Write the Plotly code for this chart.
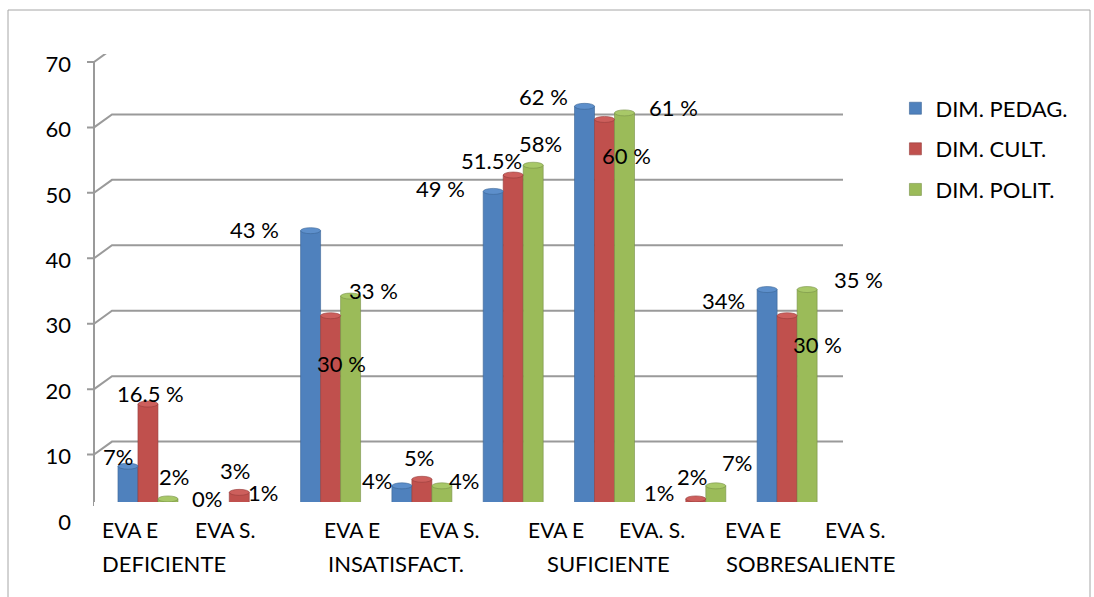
import plotly.graph_objects as go

# ---------------- data ----------------
groups = ["DEFICIENTE", "INSATISFACT.", "SUFICIENTE", "SOBRESALIENTE"]
eva_labels = ["EVA E", "EVA S.", "EVA E", "EVA S.", "EVA E", "EVA. S.", "EVA E", "EVA S."]
series_names = ["DIM. PEDAG.", "DIM. CULT.", "DIM. POLIT."]
pedag = [7, 0, 43, 4, 49, 62, 1, 34]
cult = [16.5, 3, 30, 5, 51.5, 60, 2, 30]
polit = [2, 1, 33, 4, 53, 61, 4, 34]
pedag_labels = ["7%", "0%", "43 %", "4%", "49 %", "62 %", "1%", "34%"]
cult_labels = ["16.5 %", "3%", "30 %", "5%", "51.5%", "60 %", "2%", "30 %"]
polit_labels = ["2%", "1%", "33 %", "4%", "58%", "61 %", "7%", "35 %"]
y_ticks = [0, 10, 20, 30, 40, 50, 60, 70]

# ---------------- style ----------------
colors = ["#4F81BD", "#C0504D", "#9BBB59"]
tops = ["#5D8FCB", "#CD5F5C", "#A8C868"]
edge = ["#3A6595", "#963D3A", "#779146"]
FONT = "Lato"
GRID = "#9a9a9a"
BARGAP = 0.343

# label placement offsets (pixels) relative to group centre / bar top
lab_dx = [
    [-30, -32, -76, -45, -73, -61, -37, -64],
    [3, -4, 11, -3, -22, 22, -4, 30],
    [26, 24, 43, 42, 27, 69, 41, 71],
]
lab_dy = [
    [10, 14, 1, 5, 3, 10, 13, -11],
    [11, 22, -48, 22, 15, -36, 22, -29],
    [22, 13, 6, 5, 22, 5, 23, 10],
]
eva_dx = [-18, -14, 21, 27, 43, 47, 57, 68]
grp_dx = [-30, 19.5, 49.5, 69.5]

xs = list(range(len(eva_labels)))
values = [pedag, cult, polit]
texts = [pedag_labels, cult_labels, polit_labels]

fig = go.Figure()
for i, name in enumerate(series_names):
    fig.add_trace(go.Bar(
        x=xs, y=values[i], name=name, legendgroup=name,
        marker=dict(color=colors[i], line=dict(color=edge[i], width=0.6)),
        hoverinfo="skip",
    ))

annotations = []
for i in range(3):
    for g in xs:
        annotations.append(dict(
            x=g, y=values[i][g], xref="x", yref="y", text=texts[i][g],
            showarrow=False, xanchor="center", yanchor="middle",
            xshift=lab_dx[i][g], yshift=lab_dy[i][g],
            font=dict(family=FONT, size=22, color="black"),
        ))
for g, lab in enumerate(eva_labels):
    annotations.append(dict(
        x=g, y=0, xref="x", yref="paper", text=lab, showarrow=False,
        xanchor="center", yanchor="middle", xshift=eva_dx[g], yshift=-17,
        font=dict(family=FONT, size=21, color="black"),
    ))
for k, lab in enumerate(groups):
    annotations.append(dict(
        x=2 * k + 0.5, y=0, xref="x", yref="paper", text=lab, showarrow=False,
        xanchor="center", yanchor="middle", xshift=grp_dx[k], yshift=-51,
        font=dict(family=FONT, size=22, color="black"),
    ))

shapes = []
# chart frame
shapes.append(dict(type="path", xref="paper", yref="paper", xsizemode="pixel", ysizemode="pixel",
                   xanchor=0, yanchor=0, path="M -86,502 L 996,502 L 996,-90 L -86,-90 Z",
                   line=dict(color="#a6a6a6", width=1), layer="below"))
# 3D-style gridlines: front tick, diagonal, back wall line
for v in y_ticks[1:]:
    shapes.append(dict(type="path", xref="paper", yref="y", xsizemode="pixel", ysizemode="pixel",
                       xanchor=0, yanchor=v, path="M -7,-8 L 0,-8 L 18,5 L 749,5",
                       line=dict(color=GRID, width=2), layer="below"))
# vertical axis line
shapes.append(dict(type="path", xref="paper", yref="y", xsizemode="pixel", ysizemode="pixel",
                   xanchor=0, yanchor=70, path="M 0,-8 L 0,-452",
                   line=dict(color=GRID, width=2), layer="below"))
# cylinder caps on top of each bar
barw = (1 - BARGAP) / 3
for i in range(3):
    for g in xs:
        if values[i][g] <= 0:
            continue
        shapes.append(dict(type="circle", xref="x", yref="y", xsizemode="pixel", ysizemode="pixel",
                           xanchor=g + (i - 1) * barw, yanchor=values[i][g],
                           x0=-10, x1=10, y0=-3, y1=3,
                           fillcolor=tops[i], line=dict(color=edge[i], width=0.6), layer="above"))
# white label band hiding the bar bases
shapes.append(dict(type="rect", xref="paper", yref="y", ysizemode="pixel", yanchor=0,
                   x0=0, x1=1, y0=-2, y1=10, fillcolor="white", line=dict(width=0), layer="above"))

fig.update_layout(
    width=1094, height=597,
    margin=dict(l=94, r=251, t=54, b=85),
    paper_bgcolor="white", plot_bgcolor="rgba(0,0,0,0)",
    barmode="group", bargap=BARGAP, bargroupgap=0,
    showlegend=True,
    legend=dict(x=1.07, y=0.927, xanchor="left", yanchor="top",
                font=dict(family=FONT, size=22, color="black"),
                tracegroupgap=9, traceorder="grouped", bgcolor="rgba(0,0,0,0)"),
    xaxis=dict(range=[-0.591, 7.612], showticklabels=False, showgrid=False,
               zeroline=False, showline=False, ticks=""),
    yaxis=dict(range=[0, 70], tickvals=y_ticks, showgrid=False, zeroline=False,
               showline=False, ticks="", ticklabelshift=10, ticklabelstandoff=22,
               tickfont=dict(family=FONT, size=22, color="black")),
    annotations=annotations,
    shapes=shapes,
    font=dict(family=FONT),
)

fig.write_html("out.html")
